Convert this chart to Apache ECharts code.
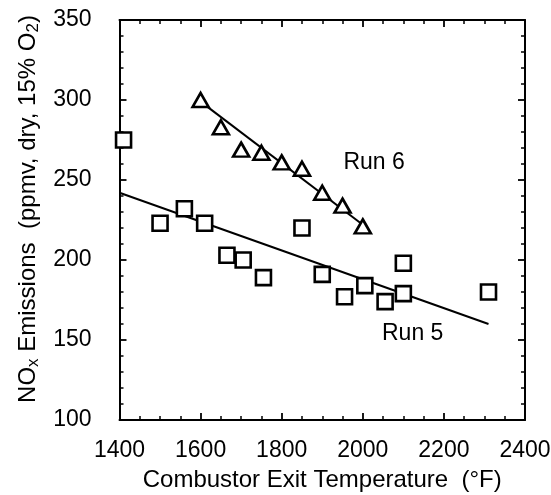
<!DOCTYPE html>
<html><head><meta charset="utf-8">
<script src="https://cdn.jsdelivr.net/npm/echarts@6/dist/echarts.min.js"></script>
<style>html,body{margin:0;padding:0;background:#fff}#c{width:551px;height:495px}</style>
</head><body><div id="c"></div>
<script>
// Run 5 (squares)
const run5X = [1410, 1500, 1560, 1610, 1665, 1705, 1755, 1850, 1900, 1955, 2005, 2055, 2100, 2100, 2310];
const run5Y = [275, 223, 232, 223, 203, 200, 189, 220, 191, 177, 184, 174, 198, 179, 180];
// Run 6 (triangles)
const run6X = [1600, 1650, 1700, 1750, 1800, 1850, 1900, 1950, 2000];
const run6Y = [300, 283, 269, 267, 261, 257, 242, 234, 221];
// Fitted lines (end points)
const fit5X = [1400, 2310];
const fit5Y = [242, 160];
const fit6X = [1600, 2000];
const fit6Y = [299, 222];
// Annotation anchors
const labelText = ['Run 6', 'Run 5'];
const labelX = [2028, 2123];
const labelY = [261, 154];
// Axes
const xMin = 1400, xMax = 2400, xStep = 200;
const yMin = 100, yMax = 350, yStep = 50;

const zip = (a, b) => a.map((v, i) => [v, b[i]]);
const FONT = 'Liberation Sans, Arial, Helvetica, sans-serif';
const FS = 23;
const FT = 24;

const axisCommon = {
  axisLine: { show: true, onZero: false, lineStyle: { color: '#000', width: 2 } },
  axisTick: { show: true, inside: true, length: 7, lineStyle: { color: '#000', width: 1.8 } },
  splitLine: { show: false },
};
const minorX = { show: true, splitNumber: 4, length: 4, lineStyle: { color: '#000', width: 1.5 } };
const minorY = { show: true, splitNumber: 5, length: 4, lineStyle: { color: '#000', width: 1.5 } };

const chart = echarts.init(document.getElementById('c'), null, { renderer: 'canvas' });
chart.setOption({
  backgroundColor: '#fff',
  animation: false,
  grid: { left: 119.5, right: 26, top: 20, bottom: 75, containLabel: false, outerBoundsMode: 'none' },
  xAxis: [
    Object.assign({}, axisCommon, {
      type: 'value', position: 'bottom', min: xMin, max: xMax, interval: xStep,
      minorTick: minorX,
      axisLabel: { show: true, color: '#000', fontSize: FS, fontFamily: FONT, margin: 19, formatter: v => String(v) },
      name: 'Combustor Exit Temperature  (\u00B0F)', nameLocation: 'middle', nameGap: 48,
      nameTextStyle: { color: '#000', fontSize: FT, fontFamily: FONT }
    }),
    Object.assign({}, axisCommon, {
      type: 'value', position: 'top', min: xMin, max: xMax, interval: xStep,
      minorTick: minorX, axisLabel: { show: false }
    })
  ],
  yAxis: [
    Object.assign({}, axisCommon, {
      type: 'value', position: 'left', min: yMin, max: yMax, interval: yStep,
      minorTick: minorY,
      axisLabel: { show: true, color: '#000', fontSize: FS, fontFamily: FONT, margin: 28, formatter: v => String(v) },
      name: 'NO{sub|x} Emissions  (ppmv, dry, 15% O{sub|2})',
      nameLocation: 'middle', nameRotate: 90, nameGap: 75,
      nameTextStyle: {
        color: '#000', fontSize: FT, fontFamily: FONT, lineHeight: 28, padding: [0, 0, 0, 22],
        rich: { sub: { fontSize: 17, fontFamily: FONT, color: '#000', verticalAlign: 'bottom', lineHeight: 28 } }
      }
    }),
    Object.assign({}, axisCommon, {
      type: 'value', position: 'right', min: yMin, max: yMax, interval: yStep,
      minorTick: minorY, axisLabel: { show: false }
    })
  ],
  series: [
    {
      type: 'line', data: zip(fit5X, fit5Y), symbol: 'none', silent: true,
      lineStyle: { color: '#000', width: 2 }, z: 2
    },
    {
      type: 'line', data: zip(fit6X, fit6Y), symbol: 'none', silent: true,
      lineStyle: { color: '#000', width: 2 }, z: 2
    },
    {
      type: 'scatter', data: zip(run5X, run5Y), symbol: 'rect', symbolSize: 15,
      itemStyle: { color: '#fff', borderColor: '#000', borderWidth: 2.6, opacity: 1 }, z: 3
    },
    {
      type: 'scatter', data: zip(run6X, run6Y), symbol: 'triangle', symbolSize: [16, 14],
      itemStyle: { color: '#fff', borderColor: '#000', borderWidth: 2.6, opacity: 1 }, z: 3
    },
    {
      type: 'scatter', data: labelX.map((x, i) => ({ value: [x, labelY[i]], name: labelText[i] })),
      symbolSize: 0, silent: true, itemStyle: { opacity: 1, color: '#000' },
      label: { show: true, position: 'inside', formatter: p => p.name, color: '#000', opacity: 1, fontSize: FS, fontFamily: FONT }
    }
  ]
});
</script></body></html>
